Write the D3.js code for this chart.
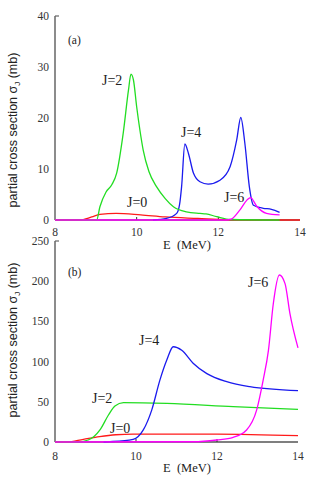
<!DOCTYPE html>
<html><head><meta charset="utf-8">
<script src="https://cdn.jsdelivr.net/npm/d3@7/dist/d3.min.js"></script>
<style>body{margin:0;background:#fff}svg{display:block}
.sf{font-family:"Liberation Serif","Times New Roman","DejaVu Serif",serif}
.ss{font-family:"Liberation Sans",Arial,"DejaVu Sans",sans-serif}
</style>
</head><body>
<svg id="c" width="316" height="487"></svg>
<script>
// ---- data ----
const xTicks = [8, 10, 12, 14];
const yTicksA = [0, 10, 20, 30, 40];
const yTicksB = [0, 50, 100, 150, 200, 250];

const a_J0_E = [8.0, 8.6, 8.9, 9.1, 9.5, 10.1, 10.7, 11.5, 12.2, 13.0, 14.0];
const a_J0_S = [0, 0, 0.6, 1.1, 1.3, 1.0, 0.6, 0.3, 0.05, 0, 0];
const a_J2_E = [8.0, 9.02, 9.1, 9.25, 9.39, 9.51, 9.67, 9.8, 9.86, 9.92, 10.0, 10.08, 10.16, 10.3, 10.49, 10.7, 10.9, 11.22, 11.55, 11.7, 11.96, 12.3, 13.5];
const a_J2_S = [0, 0, 2.6, 5.5, 6.9, 9.2, 17, 25.5, 28.6, 27.5, 22.2, 17.6, 13.7, 9.5, 6.5, 4.2, 2.6, 1.6, 1.3, 1.2, 0.65, 0.1, 0];
const a_J4_E = [10.4, 10.73, 10.98, 11.05, 11.1, 11.18, 11.27, 11.39, 11.55, 11.75, 12.04, 12.29, 12.45, 12.55, 12.65, 12.76, 12.86, 13.1, 13.3, 13.5];
const a_J4_S = [0, 0.3, 1.3, 3.0, 6.5, 14.9, 13, 9.2, 7.5, 7.05, 7.8, 10.5, 15.7, 20.1, 15, 6.5, 2.9, 2.3, 2.1, 1.5];
const a_J6_E = [8.0, 12.2, 12.3, 12.53, 12.7, 12.79, 12.94, 13.18, 13.5];
const a_J6_S = [0, 0, 0.1, 2.0, 3.9, 4.4, 2.7, 1.3, 1.0];

const b_J0_E = [8.0, 8.3, 8.7, 9.1, 9.5, 9.93, 12.0, 14.0];
const b_J0_S = [0, 0, 3.3, 6.6, 9.0, 9.9, 9.9, 7.9];
const b_J2_E = [8.0, 8.54, 8.82, 9.11, 9.32, 9.48, 9.69, 10.76, 12.4, 14.0];
const b_J2_S = [0, 0, 2.5, 15, 33.6, 44.8, 49, 48, 44, 40.6];
const b_J4_E = [9.2, 9.36, 9.93, 10.18, 10.39, 10.59, 10.76, 10.92, 11.13, 11.41, 11.75, 12.24, 12.81, 14.0];
const b_J4_S = [0, 0.4, 3.3, 15, 40, 77, 102, 118.5, 114, 98, 85, 75, 68.8, 63.8];
const b_J6_E = [8.0, 11.41, 11.99, 12.4, 12.73, 12.98, 13.14, 13.27, 13.39, 13.54, 13.68, 13.8, 14.0];
const b_J6_S = [0, 0.3, 2.5, 5.8, 15, 40, 77, 114, 172, 207.7, 197, 160, 117];

const colors = {J0: "#ff1a1a", J2: "#22dd22", J4: "#1a1aee", J6: "#ff00ff"};

const panels = [
  {tag: "(a)", yTicks: yTicksA, yMax: 40, x0: 55, x1: 300, yTop: 16, yBot: 220,
   series: [["J0", a_J0_E, a_J0_S], ["J4", a_J4_E, a_J4_S], ["J2", a_J2_E, a_J2_S], ["J6", a_J6_E, a_J6_S]],
   labels: [["J=2", 102, 85], ["J=4", 181, 137], ["J=0", 127, 207], ["J=6", 224, 202]],
   tagPos: [68, 44], xLabY: 236, eY: 249, yLabC: 130},
  {tag: "(b)", yTicks: yTicksB, yMax: 250, x0: 55, x1: 298, yTop: 241, yBot: 442,
   series: [["J0", b_J0_E, b_J0_S], ["J2", b_J2_E, b_J2_S], ["J4", b_J4_E, b_J4_S], ["J6", b_J6_E, b_J6_S]],
   labels: [["J=6", 248, 287], ["J=4", 139, 345], ["J=2", 92, 403], ["J=0", 110, 433]],
   tagPos: [68, 276], xLabY: 460, eY: 472, yLabC: 340}
];

const svg = d3.select("#c");

panels.forEach(p => {
  const x = d3.scaleLinear().domain([8, 14]).range([p.x0, p.x1]);
  const y = d3.scaleLinear().domain([0, p.yMax]).range([p.yBot, p.yTop]);
  const g = svg.append("g");

  g.append("line").attr("x1", x(8)).attr("x2", x(14)).attr("y1", y(0)).attr("y2", y(0))
    .attr("stroke", "#000").attr("stroke-width", 1.2);
  g.append("line").attr("x1", x(8)).attr("x2", x(8)).attr("y1", y(0)).attr("y2", y(p.yMax))
    .attr("stroke", "#666").attr("stroke-width", 1.5);
  g.append("line").attr("x1", x(8)).attr("x2", x(8) + 4).attr("y1", y(p.yMax)).attr("y2", y(p.yMax))
    .attr("stroke", "#666").attr("stroke-width", 1.2);

  g.selectAll(".yt").data(p.yTicks).enter().append("text").attr("class", "sf")
    .attr("x", x(8) - 6).attr("y", d => y(d) + 4).attr("text-anchor", "end")
    .attr("font-size", 11.5).attr("fill", "#333").text(d => d);
  g.selectAll(".xt").data(xTicks).enter().append("text").attr("class", "sf")
    .attr("x", d => x(d)).attr("y", p.xLabY).attr("text-anchor", "middle")
    .attr("font-size", 11.5).attr("fill", "#333").text(d => d);
  g.selectAll(".xtm").data(xTicks.slice(1, 3)).enter().append("line")
    .attr("x1", d => x(d)).attr("x2", d => x(d)).attr("y1", y(0)).attr("y2", y(0) - 3)
    .attr("stroke", "#333").attr("stroke-width", 1);

  g.append("text").attr("class", "sf").attr("x", 187).attr("y", p.eY).attr("text-anchor", "middle")
    .attr("font-size", 12.5).attr("fill", "#222")
    .style("white-space", "pre").text("E  (MeV)");

  const yl = g.append("text").attr("class", "ss").attr("transform", `translate(17,${p.yLabC}) rotate(-90)`)
    .attr("text-anchor", "middle").attr("font-size", 12.5).attr("fill", "#222");
  yl.append("tspan").text("partial cross section σ");
  yl.append("tspan").attr("font-size", 8).attr("dy", 3).text("J");
  yl.append("tspan").attr("dy", -3).text(" (mb)");

  g.append("text").attr("class", "sf").attr("x", p.tagPos[0]).attr("y", p.tagPos[1])
    .attr("font-size", 11.5).attr("fill", "#222").text(p.tag);

  const line = d3.line().x(d => x(d[0])).y(d => y(d[1])).curve(d3.curveMonotoneX);
  p.series.forEach(([k, E, S]) => {
    g.append("path").datum(E.map((e, i) => [e, S[i]]))
      .attr("d", line).attr("fill", "none").attr("stroke", colors[k]).attr("stroke-width", 1.3);
  });

  p.labels.forEach(([t, lx, ly]) => {
    g.append("text").attr("class", "sf").attr("x", lx).attr("y", ly)
      .attr("font-size", 14).attr("fill", "#222").text(t);
  });
});
</script>
</body></html>
